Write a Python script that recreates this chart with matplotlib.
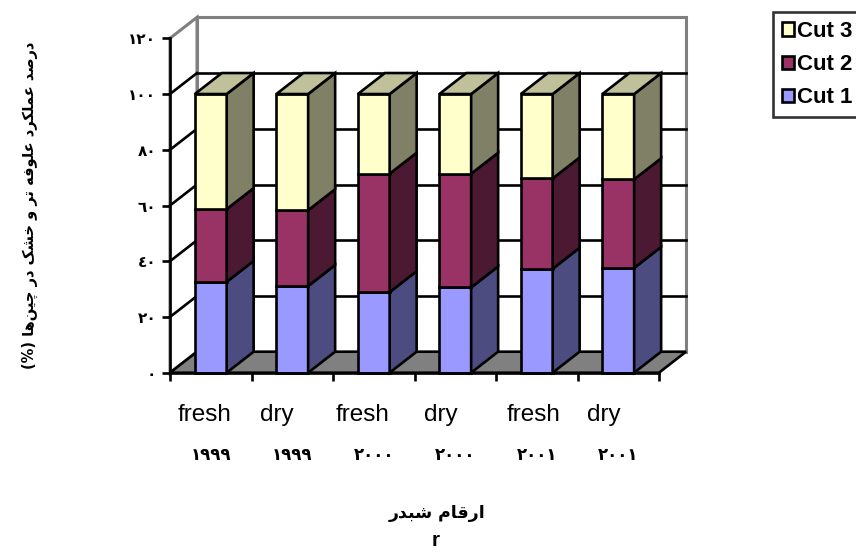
import matplotlib
matplotlib.use("Agg")
import matplotlib.pyplot as plt
from matplotlib.patches import Polygon, Rectangle, Patch
from matplotlib.transforms import blended_transform_factory, offset_copy
import numpy as np

# ------------------------------------------------------------------------------------------
# data
categories = ["fresh", "dry", "fresh", "dry", "fresh", "dry"]
years = ["١٩٩٩", "١٩٩٩", "٢٠٠٠", "٢٠٠٠", "٢٠٠١", "٢٠٠١"]
cut1 = [32.6, 31.1, 28.9, 30.6, 37.3, 37.6]
cut2 = [26.1, 27.2, 42.5, 40.8, 32.4, 31.8]
cut3 = [41.3, 41.7, 28.6, 28.6, 30.3, 30.6]
series_names = ["Cut 1", "Cut 2", "Cut 3"]
yticks = [0, 20, 40, 60, 80, 100, 120]
ytick_labels = ["٠", "٢٠", "٤٠", "٦٠", "٨٠", "١٠٠", "١٢٠"]
ylabel_txt = "درصد عملکرد علوفه تر و خشک در چین‌ها (%)"
xlabel_txt = "ارقام شبدر"
xlabel_line2 = "r"

front_colors = ["#9999FF", "#993366", "#FFFFCC"]
side_colors = ["#4C4C80", "#4C1933", "#808066"]
top_color = "#C0C09A"

# the excel labels of the first row don't sit exactly centred (pixels)
label_shift_px = [-6, -15, -11, -14, -3, -14]

# ------------------------------------------------------------------------------------------
# tiny arabic shaper: (isolated, final, initial, medial)
forms = {
    "ا": ("\uFE8D", "\uFE8E", None, None),
    "د": ("\uFEA9", "\uFEAA", None, None),
    "ر": ("\uFEAD", "\uFEAE", None, None),
    "و": ("\uFEED", "\uFEEE", None, None),
    "ب": ("\uFE8F", "\uFE90", "\uFE91", "\uFE92"),
    "ت": ("\uFE95", "\uFE96", "\uFE97", "\uFE98"),
    "خ": ("\uFEA5", "\uFEA6", "\uFEA7", "\uFEA8"),
    "ش": ("\uFEB5", "\uFEB6", "\uFEB7", "\uFEB8"),
    "ص": ("\uFEB9", "\uFEBA", "\uFEBB", "\uFEBC"),
    "ع": ("\uFEC9", "\uFECA", "\uFECB", "\uFECC"),
    "ف": ("\uFED1", "\uFED2", "\uFED3", "\uFED4"),
    "ق": ("\uFED5", "\uFED6", "\uFED7", "\uFED8"),
    "ل": ("\uFEDD", "\uFEDE", "\uFEDF", "\uFEE0"),
    "م": ("\uFEE1", "\uFEE2", "\uFEE3", "\uFEE4"),
    "ن": ("\uFEE5", "\uFEE6", "\uFEE7", "\uFEE8"),
    "ه": ("\uFEE9", "\uFEEA", "\uFEEB", "\uFEEC"),
    "ک": ("\uFB8E", "\uFB8F", "\uFB90", "\uFB91"),
    "چ": ("\uFB7A", "\uFB7B", "\uFB7C", "\uFB7D"),
    "ی": ("\uFBFC", "\uFBFD", "\uFBFE", "\uFBFF"),
}


def shape_rtl(text):
    out = []
    for i, c in enumerate(text):
        if c not in forms:
            if c != "\u200c":
                out.append(c)
            continue
        prev = text[i - 1] if i > 0 else ""
        nxt = text[i + 1] if i + 1 < len(text) else ""
        join_prev = prev in forms and forms[prev][2] is not None
        join_next = nxt in forms and forms[c][2] is not None
        iso, fin, ini, med = forms[c]
        if join_prev and join_next:
            out.append(med)
        elif join_prev:
            out.append(fin)
        elif join_next:
            out.append(ini)
        else:
            out.append(iso)
    mirror = {"(": ")", ")": "("}
    return "".join(mirror.get(c, c) for c in reversed(out))


# ------------------------------------------------------------------------------------------
plt.rcParams["font.family"] = ["Liberation Sans", "DejaVu Sans"]

W, H = 856, 552
fig = plt.figure(figsize=(W / 100, H / 100), dpi=100)

# front plane of the 3d box, in pixels
x0_px, x1_px = 170, 659
y0_px, y1_px = 372.7, 38.3
ax = fig.add_axes([x0_px / W, (H - y0_px) / H, (x1_px - x0_px) / W, (y0_px - y1_px) / H])
ax.set_xlim(-0.5, 5.5)
ax.set_ylim(0, 120)
ax.patch.set_visible(False)

n = len(categories)
xs = np.arange(n)
px_per_x = (x1_px - x0_px) / n
px_per_y = (y0_px - y1_px) / 120.0
ddx = 27 / px_per_x
ddy = 21 / px_per_y
bar_w = 0.39
lw = 1.9

# walls and floor
ax.add_patch(Rectangle((-0.5 + ddx, ddy), n, 120, facecolor="white", edgecolor="#808080",
                       lw=2.2, zorder=0.5, clip_on=False))
ax.add_patch(Polygon([(-0.5, 0), (-0.5 + ddx, ddy), (-0.5 + ddx, 120 + ddy), (-0.5, 120)],
                     closed=True, facecolor="white", edgecolor="#808080", lw=2.2, zorder=0.5, clip_on=False))
for v in yticks[1:-1]:
    ax.plot([-0.5 + ddx, n - 0.5 + ddx], [v + ddy, v + ddy], color="black", lw=lw, zorder=1, clip_on=False)
    ax.plot([-0.5, -0.5 + ddx], [v, v + ddy], color="black", lw=lw, zorder=1, clip_on=False)
ax.add_patch(Polygon([(-0.5, 0), (n - 0.5, 0), (n - 0.5 + ddx, ddy), (-0.5 + ddx, ddy)],
                     closed=True, facecolor="#808080", edgecolor="black", lw=lw, zorder=1.5, clip_on=False))

# stacked bars
bottoms = np.zeros(n)
for k, vals in enumerate([cut1, cut2, cut3]):
    vals = np.array(vals)
    ax.bar(xs, vals, width=bar_w, bottom=bottoms, color=front_colors[k], edgecolor="black",
           linewidth=lw, zorder=3, clip_on=False)
    for i in range(n):
        xr = xs[i] + bar_w / 2
        b, t = bottoms[i], bottoms[i] + vals[i]
        ax.add_patch(Polygon([(xr, b), (xr + ddx, b + ddy), (xr + ddx, t + ddy), (xr, t)], closed=True,
                             facecolor=side_colors[k], edgecolor="black", lw=lw, zorder=3, clip_on=False))
    bottoms = bottoms + vals

for i in range(n):
    xl, xr, t = xs[i] - bar_w / 2, xs[i] + bar_w / 2, bottoms[i]
    ax.add_patch(Polygon([(xl, t), (xr, t), (xr + ddx, t + ddy), (xl + ddx, t + ddy)], closed=True,
                         facecolor=top_color, edgecolor="black", lw=lw, zorder=3, clip_on=False))

# axes lines and ticks
for s in ["top", "right"]:
    ax.spines[s].set_visible(False)
for s in ["left", "bottom"]:
    ax.spines[s].set_linewidth(lw)
    ax.spines[s].set_zorder(4)
ax.set_yticks(yticks)
ax.set_yticklabels(ytick_labels, fontsize=11, fontweight="bold", family=["DejaVu Sans"])
ax.set_xticks(np.arange(-0.5, n, 1.0))
ax.set_xticklabels([])
ax.tick_params(axis="both", direction="out", length=6, width=lw, color="black")
ax.tick_params(axis="y", pad=4)

# category labels, two rows
trans = blended_transform_factory(ax.transData, fig.transFigure)
for i in range(n):
    t_lab = offset_copy(trans, fig=fig, x=label_shift_px[i], y=0, units="dots")
    ax.text(xs[i], (H - 421) / H, categories[i], transform=t_lab, ha="center", va="baseline",
            fontsize=17.5)
    ax.text(xs[i], (H - 460) / H, years[i], transform=trans, ha="center", va="baseline",
            fontsize=12, fontweight="bold", family=["DejaVu Sans"])

fig.text(437 / W, (H - 513) / H, shape_rtl(xlabel_txt), ha="center", va="center",
         fontsize=12.5, fontweight="bold", family=["DejaVu Sans"])
fig.text(436 / W, (H - 541) / H, xlabel_line2, ha="center", va="center", fontsize=15, fontweight="bold")
fig.text(30 / W, (H - 205) / H, shape_rtl(ylabel_txt), rotation=90, ha="center", va="center",
         fontsize=10.5, fontweight="bold", family=["DejaVu Sans"])

# legend
handles = [Patch(facecolor=front_colors[k], edgecolor="black", lw=lw, label=series_names[k]) for k in [2, 1, 0]]
leg = fig.legend(handles=handles, loc="upper left", bbox_to_anchor=(773 / W, 1 - 12 / H),
                 frameon=True, fancybox=False, shadow=False, prop={"size": 16, "weight": "bold"},
                 handlelength=0.55, handleheight=0.55, handletextpad=0.15, borderpad=0.4,
                 labelspacing=0.55, borderaxespad=0)
leg.get_frame().set_edgecolor("black")
leg.get_frame().set_linewidth(lw)

plt.savefig("out.png", dpi=100)
